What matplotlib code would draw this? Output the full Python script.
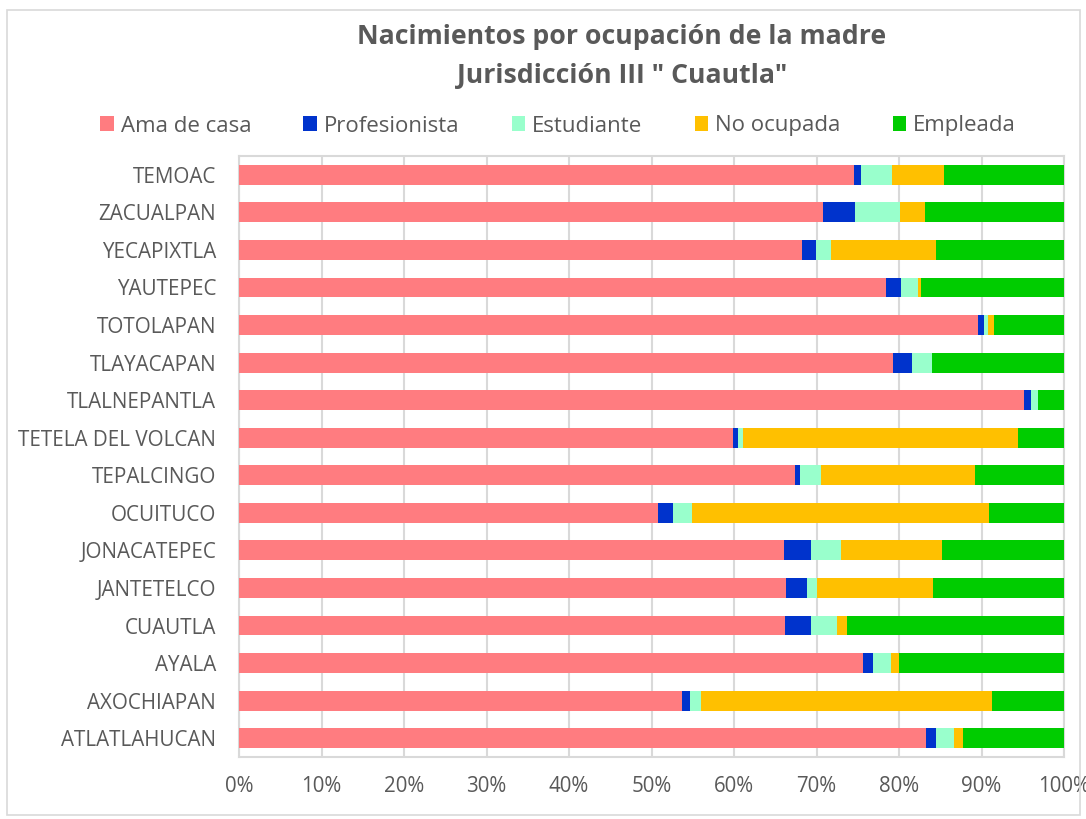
import matplotlib
matplotlib.use("Agg")
import matplotlib.pyplot as plt
import numpy as np
from matplotlib.patches import Rectangle

categories = ["TEMOAC", "ZACUALPAN", "YECAPIXTLA", "YAUTEPEC", "TOTOLAPAN", "TLAYACAPAN",
              "TLALNEPANTLA", "TETELA DEL VOLCAN", "TEPALCINGO", "OCUITUCO", "JONACATEPEC",
              "JANTETELCO", "CUAUTLA", "AYALA", "AXOCHIAPAN", "ATLATLAHUCAN"]
series_names = ["Ama de casa", "Profesionista", "Estudiante", "No ocupada", "Empleada"]

ama_de_casa   = [74.5, 70.8, 68.3, 78.4, 89.6, 79.3, 95.2, 59.9, 67.4, 50.8, 66.0, 66.3, 66.2, 75.6, 53.7, 83.3]
profesionista = [0.9, 3.9, 1.6, 1.9, 0.7, 2.3, 0.8, 0.6, 0.6, 1.8, 3.3, 2.6, 3.1, 1.2, 1.0, 1.2]
estudiante    = [3.8, 5.4, 1.9, 2.0, 0.5, 2.4, 0.8, 0.55, 2.5, 2.3, 3.7, 1.2, 3.2, 2.2, 1.3, 2.2]
no_ocupada    = [6.2, 3.1, 12.7, 0.4, 0.7, 0.0, 0.0, 33.35, 18.7, 36.0, 12.2, 14.0, 1.2, 1.0, 35.3, 1.0]
empleada      = [14.6, 16.8, 15.5, 17.3, 8.5, 16.0, 3.2, 5.6, 10.8, 9.1, 14.8, 15.9, 26.3, 20.0, 8.7, 12.3]

colors = ["#FF7C80", "#0033CC", "#99FFCC", "#FFC000", "#00CC00"]
text_color = "#595959"
grid_color = "#D9D9D9"
font = "Open Sans"

data = np.array([ama_de_casa, profesionista, estudiante, no_ocupada, empleada])
data = data / data.sum(axis=0) * 100

fig = plt.figure(figsize=(10.86, 8.19), dpi=100)
fig.patches.append(Rectangle((7/1086, 4/819), 1073/1086, 805/819, transform=fig.transFigure,
                             fill=False, edgecolor=grid_color, linewidth=1.2))
ax = fig.add_axes([239/1086, 1-757/819, 825/1086, 601/819])

y = np.arange(len(categories))
left = np.zeros(len(categories))
for vals, name, c in zip(data, series_names, colors):
    ax.barh(y, vals, left=left, height=0.53, color=c, label=name, zorder=3)
    left += vals

ax.set_xlim(0, 100)
ax.set_ylim(len(categories) - 0.5, -0.5)
ax.set_xticks(np.arange(0, 101, 10))
ax.set_xticklabels([f"{v}%" for v in range(0, 101, 10)], fontsize=14.8, color=text_color, family=font)
ax.set_yticks(y)
ax.set_yticklabels(categories, fontsize=14.9, color=text_color, family=font)
ax.tick_params(axis="both", length=0)
ax.tick_params(axis="x", pad=14)
ax.tick_params(axis="y", pad=16.5)
ax.grid(axis="x", color=grid_color, linewidth=1.5, zorder=0)
for s in ax.spines.values():
    s.set_color(grid_color)
    s.set_linewidth(1.5)

fig.text(622/1086, 1-37/819, "Nacimientos por ocupación de la madre", ha="center", va="center",
         fontsize=19.2, fontweight="bold", color=text_color, family=font)
fig.text(622/1086, 1-76/819, "Jurisdicción III \" Cuautla\"", ha="center", va="center",
         fontsize=19.2, fontweight="bold", color=text_color, family=font)

fig.legend(loc="center", bbox_to_anchor=(558/1086, 1-126/819), ncol=5, frameon=False,
           prop={"family": font, "size": 16}, labelcolor=text_color,
           handlelength=0.62, handleheight=0.62, handletextpad=0.3, columnspacing=2.35)

fig.savefig("out.png", dpi=100)
